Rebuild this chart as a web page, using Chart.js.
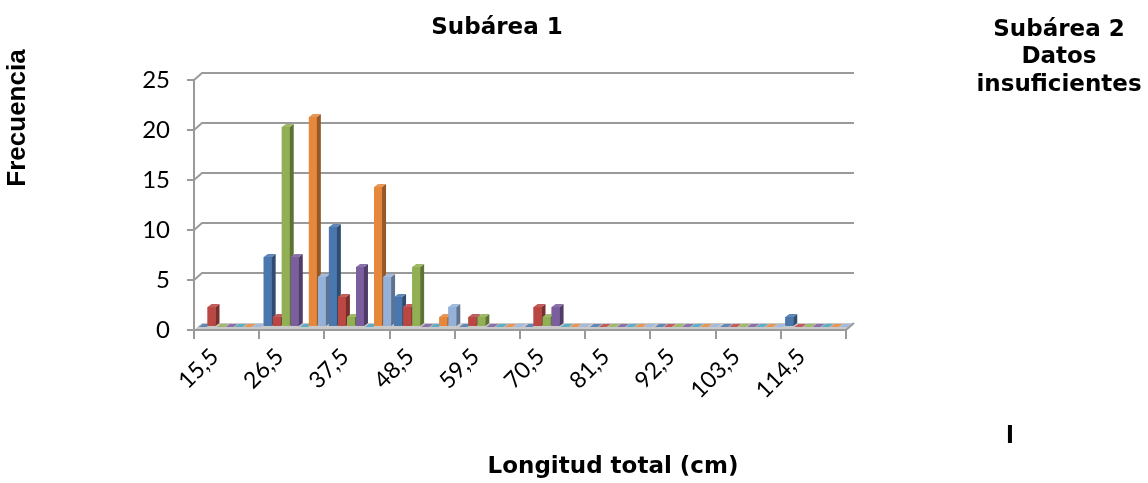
<!DOCTYPE html>
<html>
<head>
<meta charset="utf-8">
<script src="https://cdn.jsdelivr.net/npm/chart.js@4/dist/chart.umd.min.js"></script>
<style>
  html, body { margin: 0; padding: 0; background: #ffffff; }
  #wrap { width: 1148px; height: 483px; }
</style>
</head>
<body>
<div id="wrap"><canvas id="c" width="1148" height="483"></canvas></div>
<script>
// Length classes (cm) and frequency per series
const categories = ['15,5', '26,5', '37,5', '48,5', '59,5', '70,5', '81,5', '92,5', '103,5', '114,5'];
const serie1 = [0, 7, 10, 3, 0, 0, 0, 0, 0, 1];
const serie2 = [2, 1, 3, 2, 1, 2, 0, 0, 0, 0];
const serie3 = [0, 20, 1, 6, 1, 1, 0, 0, 0, 0];
const serie4 = [0, 7, 6, 0, 0, 2, 0, 0, 0, 0];
const serie5 = [0, 0, 0, 0, 0, 0, 0, 0, 0, 0];
const serie6 = [0, 21, 14, 1, 0, 0, 0, 0, 0, 0];
const serie7 = [0, 5, 5, 2, 0, 0, 0, 0, 0, 0];
const yTicks = [0, 5, 10, 15, 20, 25];

const seriesNames = ['Serie1', 'Serie2', 'Serie3', 'Serie4', 'Serie5', 'Serie6', 'Serie7'];
const seriesData = [serie1, serie2, serie3, serie4, serie5, serie6, serie7];
const seriesColors = ['#4a77ae', '#bb4743', '#91b053', '#7a5e9e', '#45a3bd', '#e5883c', '#94b1da'];

// depth of the 3D box (walls) and of each column
const WALL_DX = 8, WALL_DY = 7;
const BAR_DX = 4, BAR_DY = 3;
const SHIFT_X = 3, SHIFT_Y = 3;
const GRID = '#9a9a9a';
const TICK_FONT = 'Lato';

function shade(hex, f) {
  const n = parseInt(hex.slice(1), 16);
  let r = (n >> 16) & 255, g = (n >> 8) & 255, b = n & 255;
  if (f < 0) { r *= 1 + f; g *= 1 + f; b *= 1 + f; }
  else { r += (255 - r) * f; g += (255 - g) * f; b += (255 - b) * f; }
  return 'rgb(' + Math.round(r) + ',' + Math.round(g) + ',' + Math.round(b) + ')';
}

function poly(ctx, pts, fill) {
  ctx.beginPath();
  ctx.moveTo(pts[0][0], pts[0][1]);
  for (let i = 1; i < pts.length; i++) ctx.lineTo(pts[i][0], pts[i][1]);
  ctx.closePath();
  ctx.fillStyle = fill;
  ctx.fill();
}

// back wall gridlines, floor, 3D column faces and free text
const wallPlugin = {
  id: 'wall',
  beforeDatasetsDraw(chart) {
    const ctx = chart.ctx;
    const a = chart.chartArea;
    const ys = chart.scales.y;
    ctx.save();
    ctx.strokeStyle = GRID;
    ctx.lineWidth = 2;
    yTicks.forEach(v => {
      if (v === 0) return;
      const y = ys.getPixelForValue(v);
      ctx.beginPath();
      ctx.moveTo(a.left, y);
      ctx.lineTo(a.left + WALL_DX, y - WALL_DY);
      ctx.lineTo(a.right + WALL_DX, y - WALL_DY);
      ctx.stroke();
    });
    const y0 = ys.getPixelForValue(0);
    poly(ctx, [[a.left, y0], [a.right, y0], [a.right + WALL_DX, y0 - WALL_DY], [a.left + WALL_DX, y0 - WALL_DY]], '#c9c9c9');
    ctx.beginPath();
    ctx.moveTo(a.left, y0);
    ctx.lineTo(a.right, y0);
    ctx.lineTo(a.right + WALL_DX, y0 - WALL_DY);
    ctx.stroke();
    ctx.restore();
    // columns sit in the middle of the floor depth
    ctx.save();
    ctx.translate(SHIFT_X, -SHIFT_Y);
  },
  afterDatasetsDraw(chart) {
    const ctx = chart.ctx;
    for (let i = 0; i < categories.length; i++) {
      for (let d = 0; d < seriesData.length; d++) {
        const el = chart.getDatasetMeta(d).data[i];
        if (!el) continue;
        const col = seriesColors[d];
        const w = el.width, x0 = el.x - w / 2, x1 = el.x + w / 2;
        const top = el.y, base = el.base;
        if (base - top > 0.5) {
          ctx.fillStyle = col;
          ctx.fillRect(x0, top, w, base - top);
          poly(ctx, [[x1, top], [x1 + BAR_DX, top - BAR_DY], [x1 + BAR_DX, base - BAR_DY], [x1, base]], shade(col, -0.35));
        }
        poly(ctx, [[x0, top], [x0 + BAR_DX, top - BAR_DY], [x1 + BAR_DX, top - BAR_DY], [x1, top]], shade(col, 0.12));
      }
    }
    ctx.restore();
  },
  afterDraw(chart) {
    const ctx = chart.ctx;
    ctx.save();
    ctx.fillStyle = '#000000';
    ctx.textAlign = 'center';
    ctx.textBaseline = 'middle';
    ctx.font = 'bold 23px "DejaVu Sans"';
    ctx.fillText('Subárea 1', 497, 28);
    ctx.fillText('Subárea 2', 1059, 30);
    ctx.fillText('Datos', 1059, 57);
    ctx.fillText('insuficientes', 1059, 85);
    ctx.fillText('Longitud total (cm)', 613, 467);
    ctx.fillText('l', 1010, 437);
    ctx.translate(18, 118);
    ctx.rotate(-Math.PI / 2);
    ctx.font = 'bold 26px "Liberation Sans"';
    ctx.fillText('Frecuencia', 0, 0);
    ctx.restore();
  }
};

function build() {
  new Chart(document.getElementById('c'), {
    type: 'bar',
    data: {
      labels: categories,
      datasets: seriesData.map((vals, k) => ({
        label: seriesNames[k],
        data: vals,
        backgroundColor: seriesColors[k],
        borderWidth: 0,
        categoryPercentage: 0.97,
        barPercentage: 0.88
      }))
    },
    options: {
      responsive: false,
      devicePixelRatio: 1,
      animation: false,
      layout: { padding: { left: 0, right: 302, top: 80, bottom: 0 } },
      plugins: { legend: { display: false }, tooltip: { enabled: false }, title: { display: false } },
      scales: {
        x: {
          offset: true,
          grid: { offset: true, drawOnChartArea: false, drawTicks: true, tickLength: 9, color: GRID, lineWidth: 2 },
          border: { display: false },
          ticks: {
            autoSkip: false, maxRotation: 45, minRotation: 45, padding: 4, labelOffset: -12,
            color: '#000000', font: { family: TICK_FONT, size: 23 }
          },
          afterFit(scale) { scale.height = 153; }
        },
        y: {
          min: 0, max: 25,
          grid: { drawOnChartArea: false, drawTicks: true, tickLength: 7, color: GRID, lineWidth: 2 },
          border: { display: true, color: GRID, width: 2 },
          ticks: {
            stepSize: 5, padding: 17,
            color: '#000000', font: { family: TICK_FONT, size: 24 }
          },
          afterFit(scale) { scale.width = 194; }
        }
      }
    },
    plugins: [wallPlugin]
  });
}

Promise.all([
  document.fonts.load('22px "' + TICK_FONT + '"'),
  document.fonts.load('bold 23px "DejaVu Sans"'),
  document.fonts.load('bold 26px "Liberation Sans"')
]).then(build, build);
</script>
</body>
</html>
